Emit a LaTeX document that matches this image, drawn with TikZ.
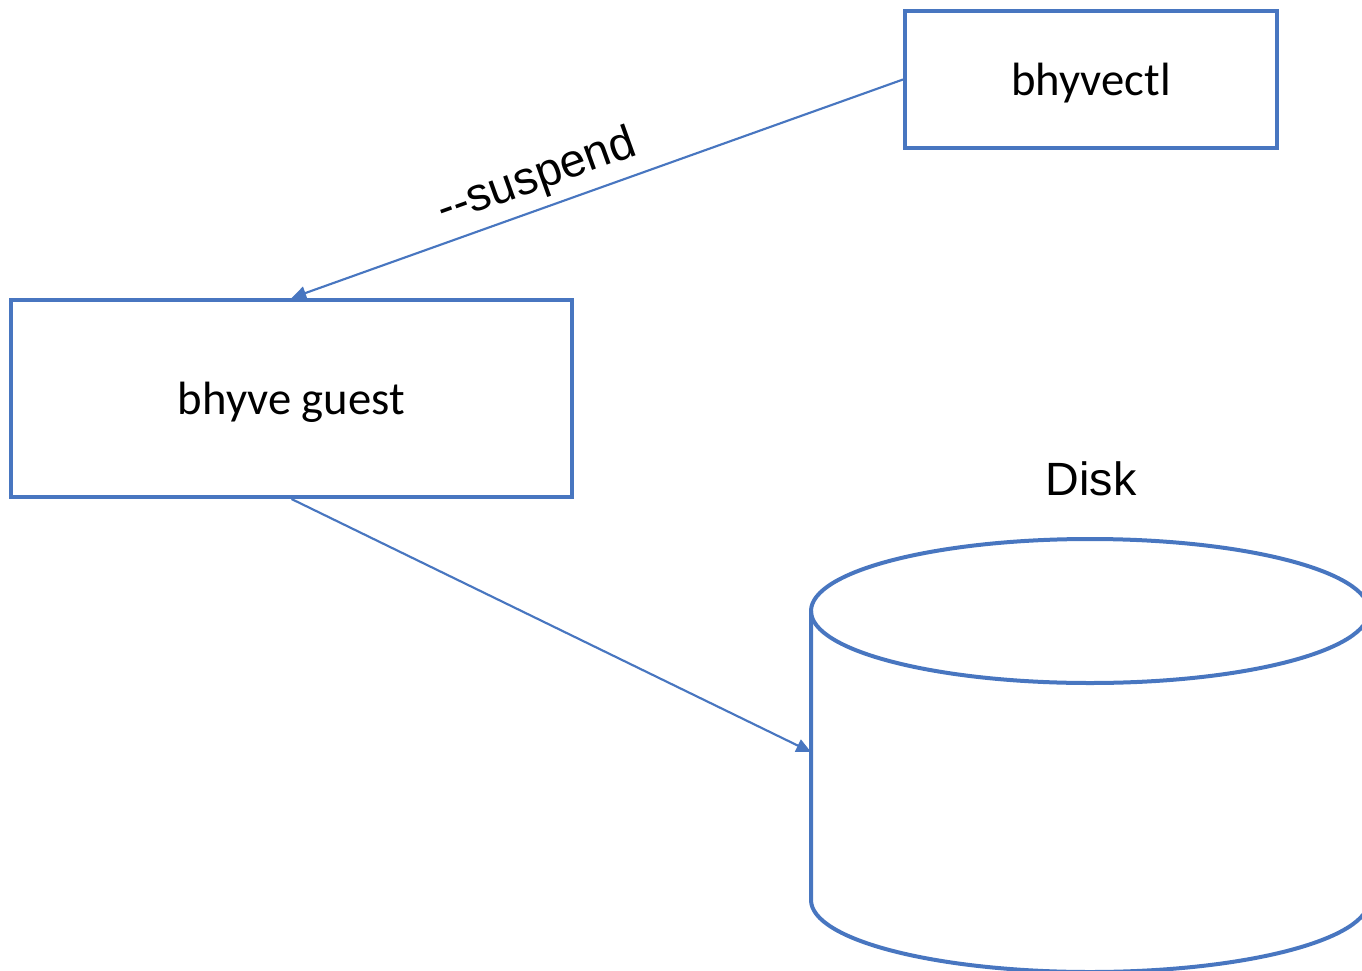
\documentclass[tikz,border=0pt]{standalone}
\usepackage{fontspec}
\setmainfont{Carlito}
\newfontfamily\arialfont{Liberation Sans}
\usetikzlibrary{arrows.meta}
\definecolor{boxblue}{RGB}{72,118,192}
\tikzset{
  box/.style={draw=boxblue, line width=3pt, inner sep=0pt, text depth=0pt},
  conn/.style={draw=boxblue, line width=1.6pt, -{Triangle[length=11pt,width=10pt]}},
  lbl/.style={font=\fontsize{35}{40}\selectfont},
  albl/.style={font=\arialfont\fontsize{35}{40}\selectfont},
}
\begin{document}
\begin{tikzpicture}[x=0.75pt,y=-0.75pt]
\useasboundingbox (0,0) rectangle (1362,970);
\clip (0,0) rectangle (1362,970);
\node[box, minimum width=279pt, minimum height=102.75pt, lbl] (ctl) at (1091,79.5) {bhyvectl};
\node[box, minimum width=420.75pt, minimum height=147.75pt, lbl] (guest) at (291.5,398.5) {bhyve guest};
% cylinder
\begin{scope}[draw=boxblue, line width=3pt]
\draw (811,611) -- (811,900) arc[start angle=180, end angle=360, x radius=209.25pt, y radius=54pt] -- (1369,611);
\draw (1090,611) ellipse [x radius=209.25pt, y radius=54pt];
\end{scope}
\coordinate (diskin) at (811,752);
\node[albl] (disk) at (1091,479) {Disk};
\draw[conn] (ctl.west) -- (guest.north);
\draw[conn] (guest.south) -- (diskin);
\node[albl, rotate=19.8] (susp) at (537,178) {-{}-suspend};
\end{tikzpicture}
\end{document}
